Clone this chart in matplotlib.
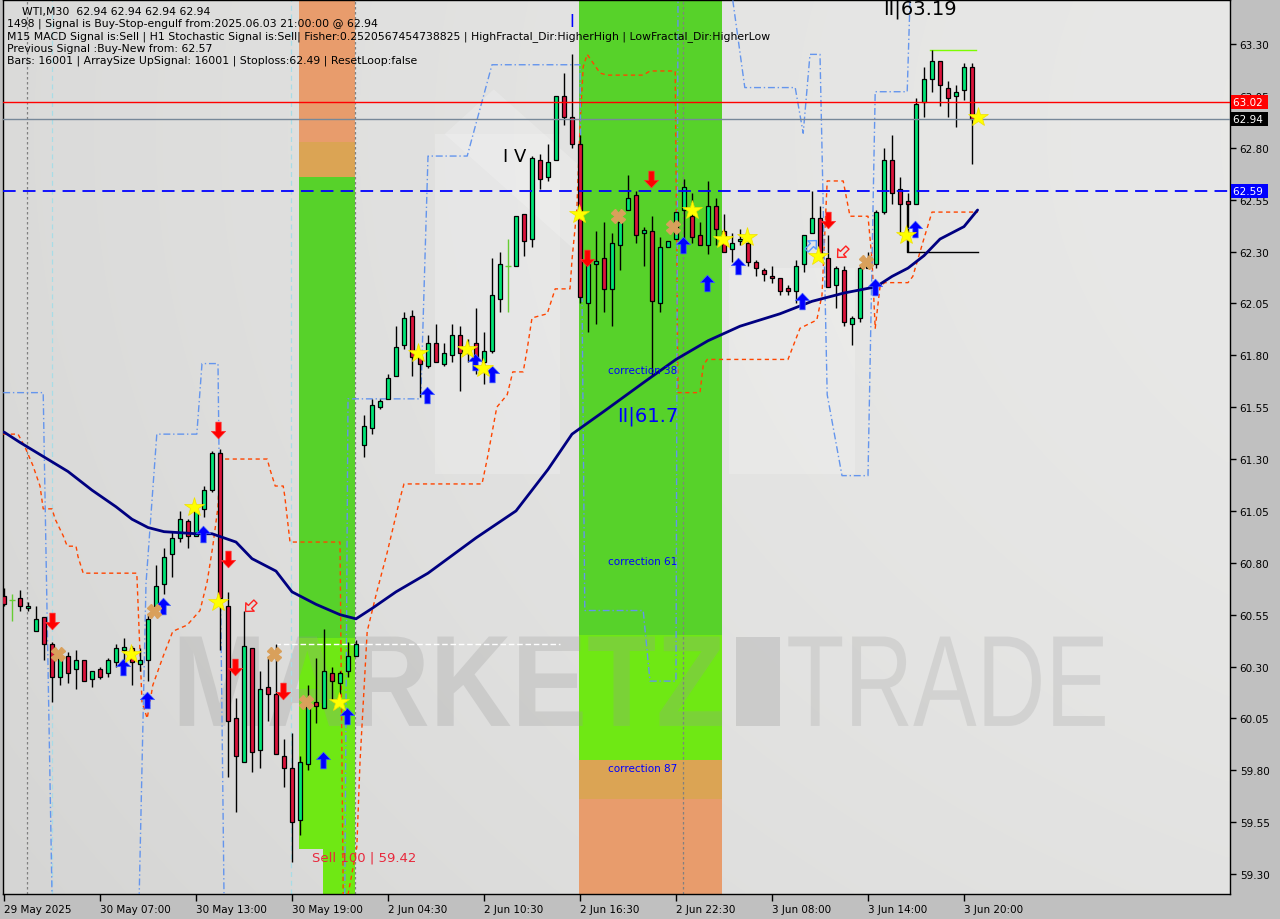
import matplotlib
matplotlib.use("Agg")
import matplotlib.pyplot as plt
import matplotlib.transforms as mtransforms
from matplotlib.path import Path
from matplotlib.markers import MarkerStyle
from matplotlib.textpath import TextPath
from matplotlib.patches import PathPatch, Rectangle, Polygon
from matplotlib.font_manager import FontProperties
import numpy as np

# ---- candles (WTI, M30), bar index 0 = 29 May 2025 ----
opens = [60.64, 60.62, 60.63, 60.58, 60.47, 60.54, 60.41, 60.25, 60.35, 60.29,
         60.33, 60.24, 60.29, 60.27, 60.32, 60.38, 60.39, 60.31, 60.33, 60.59,
         60.70, 60.84, 60.92, 61.00, 60.93, 61.06, 61.15, 61.33, 60.59, 60.05,
         59.84, 60.39, 59.90, 60.20, 60.17, 59.87, 59.81, 59.56, 59.83, 60.13,
         60.10, 60.27, 60.22, 60.28, 60.35, 61.37, 61.45, 61.55, 61.59, 61.70,
         61.85, 61.99, 61.79, 61.75, 61.86, 61.76, 61.80, 61.90, 61.81, 61.86,
         61.77, 61.82, 62.07, 62.23, 62.23, 62.48, 62.36, 62.74, 62.66, 62.74,
         63.05, 62.95, 62.82, 62.05, 62.24, 62.27, 62.12, 62.33, 62.50, 62.57,
         62.39, 62.40, 62.05, 62.32, 62.36, 62.50, 62.47, 62.38, 62.33, 62.52,
         62.40, 62.31, 62.35, 62.34, 62.25, 62.21, 62.18, 62.17, 62.12, 62.11,
         62.24, 62.39, 62.46, 62.27, 62.14, 62.21, 61.95, 61.98, 62.22, 62.24,
         62.49, 62.74, 62.60, 62.54, 62.53, 63.02, 63.13, 63.22, 63.09, 63.05,
         63.08, 63.19]
highs = [60.68, 60.65, 60.67, 60.61, 60.59, 60.54, 60.42, 60.35, 60.37, 60.38,
         60.33, 60.28, 60.30, 60.34, 60.41, 60.44, 60.40, 60.39, 60.55, 60.79,
         60.87, 60.95, 61.05, 61.01, 61.08, 61.17, 61.34, 61.35, 60.66, 60.15,
         60.57, 60.39, 60.28, 60.34, 60.41, 59.95, 59.98, 59.87, 60.21, 60.34,
         60.48, 60.30, 60.28, 60.42, 60.43, 61.51, 61.59, 61.59, 61.71, 61.94,
         62.01, 62.02, 61.82, 61.90, 61.95, 61.86, 61.95, 61.94, 61.88, 62.03,
         61.91, 62.27, 62.30, 62.36, 62.47, 62.48, 62.76, 62.77, 62.82, 63.05,
         63.16, 63.25, 62.86, 62.26, 62.40, 62.44, 62.39, 62.50, 62.67, 62.59,
         62.42, 62.47, 62.37, 62.35, 62.49, 62.65, 62.58, 62.44, 62.64, 62.56,
         62.48, 62.39, 62.41, 62.36, 62.26, 62.22, 62.23, 62.17, 62.14, 62.26,
         62.38, 62.59, 62.52, 62.38, 62.23, 62.23, 61.99, 62.23, 62.30, 62.50,
         62.80, 62.86, 62.66, 62.58, 63.04, 63.19, 63.27, 63.22, 63.12, 63.10,
         63.21, 63.21]
lows = [60.59, 60.52, 60.57, 60.57, 60.47, 60.33, 60.13, 60.21, 60.22, 60.19,
        60.23, 60.20, 60.24, 60.25, 60.30, 60.30, 60.21, 60.28, 60.23, 60.56,
        60.65, 60.73, 60.90, 60.87, 60.93, 61.02, 61.14, 60.38, 59.77, 59.60,
        59.84, 59.79, 59.81, 60.04, 59.88, 59.72, 59.36, 59.49, 59.80, 60.03,
        60.10, 60.14, 60.17, 60.25, 60.35, 61.31, 61.42, 61.54, 61.59, 61.70,
        61.83, 61.70, 61.60, 61.74, 61.77, 61.75, 61.77, 61.63, 61.77, 61.71,
        61.66, 61.81, 62.01, 62.01, 62.23, 62.28, 62.32, 62.60, 62.64, 62.74,
        62.91, 62.80, 62.05, 61.91, 61.95, 62.01, 61.94, 62.21, 62.50, 62.34,
        62.23, 61.70, 62.01, 62.32, 62.36, 62.33, 62.34, 62.33, 62.29, 62.33,
        62.30, 62.25, 62.33, 62.23, 62.18, 62.16, 62.15, 62.09, 62.09, 62.05,
        62.20, 62.39, 62.26, 62.13, 62.03, 61.94, 61.85, 61.96, 62.22, 62.22,
        62.48, 62.53, 62.38, 62.30, 62.53, 62.95, 63.07, 63.00, 62.95, 62.90,
        63.03, 62.72]
closes = [60.60, 60.62, 60.59, 60.59, 60.53, 60.41, 60.25, 60.34, 60.27, 60.33,
          60.23, 60.28, 60.25, 60.33, 60.39, 60.39, 60.32, 60.33, 60.53, 60.69,
          60.83, 60.92, 61.01, 60.93, 61.05, 61.15, 61.33, 60.63, 60.04, 59.87,
          60.40, 59.89, 60.19, 60.17, 59.88, 59.81, 59.55, 59.84, 60.12, 60.11,
          60.28, 60.23, 60.27, 60.35, 60.41, 61.46, 61.56, 61.58, 61.69, 61.84,
          61.98, 61.79, 61.76, 61.86, 61.77, 61.81, 61.90, 61.81, 61.84, 61.79,
          61.82, 62.09, 62.24, 62.23, 62.47, 62.35, 62.75, 62.65, 62.73, 63.05,
          62.95, 62.82, 62.08, 62.24, 62.25, 62.12, 62.34, 62.44, 62.56, 62.38,
          62.40, 62.06, 62.32, 62.35, 62.49, 62.61, 62.37, 62.33, 62.52, 62.41,
          62.30, 62.34, 62.36, 62.25, 62.22, 62.19, 62.17, 62.11, 62.11, 62.23,
          62.38, 62.46, 62.27, 62.13, 62.22, 61.96, 61.98, 62.22, 62.23, 62.49,
          62.74, 62.58, 62.53, 62.53, 63.01, 63.13, 63.22, 63.10, 63.04, 63.07,
          63.19, 62.94]

tick_bars = [0, 12, 24, 36, 48, 60, 72, 84, 96, 108, 120]
tick_labels = ["29 May 2025", "30 May 07:00", "30 May 13:00", "30 May 19:00",
               "2 Jun 04:30", "2 Jun 10:30", "2 Jun 16:30", "2 Jun 22:30",
               "3 Jun 08:00", "3 Jun 14:00", "3 Jun 20:00"]
price_ticks = [59.30, 59.55, 59.80, 60.05, 60.30, 60.55, 60.80, 61.05, 61.30,
               61.55, 61.80, 62.05, 62.30, 62.55, 62.80, 63.05, 63.30]

# moving average (navy)
ma_bar = [0, 2, 5, 8, 11, 14, 16, 18, 20, 24, 26, 29, 31, 34, 36, 39, 42, 44,
          46, 49, 53, 59, 64, 68, 71, 75, 80, 84, 88, 92, 97, 101, 105, 109,
          111, 113, 115, 117, 120, 121.7]
ma_val = [61.43, 61.38, 61.31, 61.24, 61.15, 61.07, 61.01, 60.97, 60.95, 60.94,
          60.94, 60.90, 60.82, 60.76, 60.66, 60.60, 60.55, 60.53, 60.58, 60.66,
          60.75, 60.92, 61.05, 61.25, 61.42, 61.53, 61.67, 61.78, 61.87, 61.94,
          62.00, 62.06, 62.10, 62.13, 62.18, 62.22, 62.28, 62.36, 62.42, 62.50]

# orange-red dashed channel
orange_bar = [-0.1, 1.75, 2.6, 3.6, 4.5, 4.9, 6.0, 6.4, 7.4, 7.9, 9.0, 9.25, 9.9,
              16.6, 17.25, 17.9, 18.6, 19.9, 21.1, 22.9, 24.5, 25.4, 26.1, 26.75,
              27.0, 32.9, 33.25, 33.9, 34.9, 35.1, 35.75, 42.0, 42.4, 43.0, 44.1,
              44.5, 45.4, 46.6, 47.9, 49.5, 50.0, 59.75, 60.4, 61.6, 62.9, 63.6,
              64.9, 65.4, 66.0, 67.9, 68.9, 70.75, 71.0, 71.6, 72.0, 72.4, 72.9,
              74.5, 75.4, 79.9, 80.75, 83.9, 84.25, 87.0, 87.4, 87.9, 98.0, 98.9,
              99.5, 101.6, 102.25, 102.9, 104.9, 105.75, 108.0, 108.5, 108.9,
              109.5, 110.1, 113.0, 113.6, 114.9, 116.0, 121.75]
orange_val = [61.42, 61.42, 61.36, 61.27, 61.17, 61.06, 61.06, 61.01, 60.93, 60.88,
              60.88, 60.83, 60.75, 60.75, 60.13, 60.05, 60.21, 60.35, 60.47, 60.50,
              60.57, 60.71, 60.88, 61.07, 61.30, 61.30, 61.25, 61.17, 61.17, 61.12,
              60.90, 60.90, 59.20, 59.20, 59.43, 59.84, 60.47, 60.66, 60.85, 61.11,
              61.18, 61.18, 61.30, 61.55, 61.61, 61.72, 61.72, 61.83, 61.98, 62.00,
              62.12, 62.12, 62.26, 62.50, 62.90, 63.19, 63.25, 63.16, 63.15, 63.15,
              63.17, 63.17, 61.62, 61.62, 61.75, 61.78, 61.78, 61.87, 61.93, 61.97,
              62.09, 62.64, 62.64, 62.47, 62.47, 62.26, 61.93, 62.13, 62.15, 62.15,
              62.18, 62.35, 62.49, 62.49]

# blue dash-dot channel pieces
blue1_bar = [-0.1, 4.9, 6.0, 16.9, 17.75, 19.1, 24.1, 24.75, 26.75, 27.5]
blue1_val = [61.62, 61.62, 59.20, 59.20, 60.70, 61.42, 61.42, 61.76, 61.76, 59.20]
blue2_bar = [42.6, 43.0, 52.1, 53.0, 57.9, 61.0, 72.0, 72.6, 79.9, 80.75, 84.0, 84.25]
blue2_val = [59.20, 61.59, 61.59, 62.76, 62.76, 63.20, 63.20, 60.57, 60.57, 60.23,
             60.23, 63.51]
blue3_bar = [91.1, 92.6, 98.9, 99.9, 100.75, 102.0, 102.9, 104.75, 108.0, 108.9,
             112.9, 113.25]
blue3_val = [63.51, 63.09, 63.09, 62.87, 63.25, 63.25, 61.61, 61.22, 61.22, 63.07,
             63.07, 63.51]

# signal markers (bar, price)
down_bar = [6.0, 26.75, 28.0, 28.9, 34.9, 72.9, 80.9, 103.0]
down_val = [60.52, 61.44, 60.82, 60.30, 60.18, 62.27, 62.65, 62.45]
up_bar = [14.9, 17.9, 19.9, 24.9, 39.9, 42.9, 52.9, 58.9, 61.0, 84.9, 87.9, 91.75,
          99.75, 108.9, 113.9]
up_val = [60.30, 60.14, 60.59, 60.94, 59.85, 60.06, 61.61, 61.77, 61.71, 62.33,
          62.15, 62.23, 62.06, 62.13, 62.41]
star_bar = [15.9, 23.75, 26.75, 41.9, 51.75, 57.9, 59.9, 71.9, 86.0, 89.9, 92.9,
            101.75, 112.75, 121.75]
star_val = [60.36, 61.07, 60.61, 60.13, 61.81, 61.83, 61.74, 62.48, 62.50, 62.36,
            62.37, 62.28, 62.38, 62.95]
cross_bar = [6.75, 18.75, 33.75, 37.75, 76.75, 83.6, 107.75]
cross_val = [60.36, 60.57, 60.36, 60.13, 62.47, 62.42, 62.25]

# shaded retracement zones
zone1_bars = [36.9, 43.9]
zone1_narrow_left = 39.9
zone1_levels = [63.51, 62.83, 62.66, 60.44, 59.42, 59.20]
zone2_bars = [71.9, 89.75]
zone2_levels = [63.51, 60.45, 59.85, 59.66, 59.20]

# level lines
ask_price, bid_price, signal_price = 63.02, 62.94, 62.59

UP_COL = "#00e676"
DN_COL = "#dc143c"

fig = plt.figure(figsize=(12.8, 9.2), dpi=100, facecolor="#c0c0c0")
ax = fig.add_axes([3 / 1280, 25 / 920, 1227 / 1280, 894 / 920])
ax.set_xlim(-0.125, 153.25)
ax.set_ylim(59.204, 63.512)

# background gradient
gx, gy = np.meshgrid(np.linspace(0, 1, 200), np.linspace(0, 1, 200))
shade = 0.848 + 0.05 * gx + 0.03 * gy - 0.03 * ((gx - 0.55) ** 2 + (gy - 0.35) ** 2)
bg = np.dstack([shade, shade, shade * 0.995])
ax.imshow(bg, extent=[0, 1, 0, 1], transform=ax.transAxes, origin="lower",
          aspect="auto", zorder=0, interpolation="bilinear")

# faint logo panels
for xs, ys in [([0.352, 0.454, 0.454, 0.352], [0.47, 0.47, 0.85, 0.85]),
               ([0.592, 0.694, 0.694, 0.592], [0.47, 0.47, 0.70, 0.70]),
               ([0.36, 0.40, 0.58, 0.54], [0.85, 0.90, 0.68, 0.63])]:
    ax.add_patch(Polygon(list(zip(xs, ys)), closed=True, transform=ax.transAxes,
                         fc="white", ec="none", alpha=0.2, zorder=0.5))

# zones
z = zone1_levels
x0, x1 = zone1_bars
ax.add_patch(Rectangle((x0, z[1]), x1 - x0, z[0] - z[1], fc="#e89c6c", ec="none", zorder=1))
ax.add_patch(Rectangle((x0, z[2]), x1 - x0, z[1] - z[2], fc="#dba454", ec="none", zorder=1))
ax.add_patch(Rectangle((x0, z[3]), x1 - x0, z[2] - z[3], fc="#57d22a", ec="none", zorder=1))
ax.add_patch(Rectangle((x0, z[4]), x1 - x0, z[3] - z[4], fc="#6fe814", ec="none", zorder=1))
ax.add_patch(Rectangle((zone1_narrow_left, z[5]), x1 - zone1_narrow_left, z[4] - z[5],
                       fc="#6fe814", ec="none", zorder=1))
z = zone2_levels
x0, x1 = zone2_bars
ax.add_patch(Rectangle((x0, z[1]), x1 - x0, z[0] - z[1], fc="#57d22a", ec="none", zorder=1))
ax.add_patch(Rectangle((x0, z[2]), x1 - x0, z[1] - z[2], fc="#6fe814", ec="none", zorder=1))
ax.add_patch(Rectangle((x0, z[3]), x1 - x0, z[2] - z[3], fc="#dba454", ec="none", zorder=1))
ax.add_patch(Rectangle((x0, z[4]), x1 - x0, z[3] - z[4], fc="#e89c6c", ec="none", zorder=1))


# watermark
def watermark(text, bx0, bx1, by0, by1, color, alpha, weight):
    tp = TextPath((0, 0), text, size=1,
                  prop=FontProperties(family="Liberation Sans", weight=weight))
    bb = tp.get_extents()
    tr = (mtransforms.Affine2D().translate(-bb.x0, -bb.y0)
          .scale((bx1 - bx0) / bb.width, (by1 - by0) / bb.height)
          .translate(bx0, by0) + ax.transAxes)
    ax.add_patch(PathPatch(tp, transform=tr, fc=color, ec="none", alpha=alpha, zorder=1.5))


watermark("MARKETZ", 0.144, 0.586, 0.188, 0.288, "#999999", 0.27, "bold")
ax.add_patch(Rectangle((0.597, 0.188), 0.036, 0.100, transform=ax.transAxes,
                       fc="#999999", ec="none", alpha=0.3, zorder=1.5))
watermark("TRADE", 0.640, 0.898, 0.188, 0.288, "#a0a0a0", 0.25, "normal")

# vertical separators
for b in [2.9, 43.9, 84.9]:
    ax.axvline(b, color="#808080", lw=0.9, ls=(0, (2, 2)), zorder=2)
for b in [6.0, 35.9]:
    ax.axvline(b, color="#a8dce6", lw=0.9, ls=(0, (4, 3)), zorder=2)

# channels
ax.plot(orange_bar, orange_val, color="#ff4500", lw=1.0, ls=(0, (3, 2.5)), zorder=3)
for bx, by in [(blue1_bar, blue1_val), (blue2_bar, blue2_val), (blue3_bar, blue3_val)]:
    ax.plot(bx, by, color="#6495ed", lw=1.0, ls=(0, (5, 2, 1, 2)), zorder=3)

# extra small level lines
ax.plot([33.9, 69.5], [60.41, 60.41], color="white", lw=1.0, ls=(0, (4, 2)), zorder=3)
ax.plot([112.9, 112.9, 121.75], [62.53, 62.30, 62.30], color="black", lw=1.0, zorder=3)
ax.plot([115.75, 121.5], [63.27, 63.27], color="#7cfc00", lw=1.0, zorder=3)

# candles
idx = np.arange(len(opens))
o = np.array(opens)
c = np.array(closes)
h = np.array(highs)
l = np.array(lows)
doji = o == c
bull = (c > o)
bear = (c < o)
ax.vlines(idx[~doji], l[~doji], h[~doji], color="black", lw=1.0, zorder=4)
ax.vlines(idx[doji], l[doji], h[doji], color="#66cc33", lw=1.0, zorder=4)
ax.hlines(c[doji], idx[doji] - 0.35, idx[doji] + 0.35, color="#66cc33", lw=1.0, zorder=4)
for mask, col in [(bull, UP_COL), (bear, DN_COL)]:
    bottoms = np.minimum(o, c)[mask]
    heights = np.maximum(np.abs(c - o)[mask], 0.012)
    ax.bar(idx[mask], heights, bottom=bottoms, width=0.62, color=col,
           edgecolor="black", linewidth=0.9, zorder=4.5)

# moving average
ax.plot(ma_bar, ma_val, color="#000080", lw=2.0, zorder=5, solid_capstyle="round")

# horizontal level lines
ax.axhline(ask_price, color="#ff0000", lw=1.0, zorder=5)
ax.axhline(bid_price, color="#778899", lw=1.0, zorder=5)
ax.axhline(signal_price, color="#0000ff", lw=1.3, ls=(0, (7, 4)), zorder=5)

# markers
arrow_up = Path([(0, 1), (-0.85, 0.1), (-0.32, 0.1), (-0.32, -1), (0.32, -1),
                 (0.32, 0.1), (0.85, 0.1), (0, 1)],
                [Path.MOVETO] + [Path.LINETO] * 6 + [Path.CLOSEPOLY])
arrow_dn = Path(np.array(arrow_up.vertices) * [1, -1], arrow_up.codes)
ax.plot(down_bar, down_val, ls="none", marker=arrow_dn, ms=12, mfc="#ff0000",
        mec="#ff3030", mew=0.5, zorder=6)
ax.plot(up_bar, up_val, ls="none", marker=arrow_up, ms=12, mfc="#0000ff",
        mec="#4060ff", mew=0.5, zorder=6)
ax.plot(star_bar, star_val, ls="none", marker="*", ms=15, mfc="#ffff00",
        mec="#f0e000", mew=0.5, zorder=6)
ax.plot(cross_bar, cross_val, ls="none", marker="X", ms=10, mfc="#d9a05b",
        mec="#d9a05b", zorder=6)
ax.plot([30.75], [60.59], ls="none",
        marker=MarkerStyle(arrow_up, transform=mtransforms.Affine2D().rotate_deg(135)),
        ms=10, mfc="none", mec="#ff2020", mew=1.0, zorder=6)
ax.plot([104.75], [62.30], ls="none",
        marker=MarkerStyle(arrow_up, transform=mtransforms.Affine2D().rotate_deg(135)),
        ms=10, mfc="none", mec="#ff2020", mew=1.0, zorder=6)
ax.plot([100.9], [62.33], ls="none",
        marker=MarkerStyle(arrow_up, transform=mtransforms.Affine2D().rotate_deg(-45)),
        ms=10, mfc="none", mec="#5a9cff", mew=1.0, zorder=6)

# labels on chart
FONT = "DejaVu Sans"
ax.text(75.5, 61.73, "correction 38", color="#0000ff", fontsize=7.5, va="center", family=FONT, zorder=7)
ax.text(75.5, 60.81, "correction 61", color="#0000ff", fontsize=7.5, va="center", family=FONT, zorder=7)
ax.text(75.5, 59.81, "correction 87", color="#0000ff", fontsize=7.5, va="center", family=FONT, zorder=7)
ax.text(76.6, 61.51, "II|61.7", color="#0000ff", fontsize=14, va="center", family=FONT, zorder=7)
ax.text(109.9, 63.47, "II|63.19", color="black", fontsize=14, va="center", family=FONT, zorder=7)
ax.text(62.4, 62.76, "I V", color="black", fontsize=13, va="center", family=FONT, zorder=7)
ax.text(71.0, 63.41, "I", color="#0000ff", fontsize=12, va="center", ha="center", family=FONT, zorder=7)
ax.text(38.5, 59.38, "Sell 100 | 59.42", color="#e8283c", fontsize=9.5, va="center", family=FONT, zorder=7)

# info block, top left
info = [
    (22, 12, "WTI,M30  62.94 62.94 62.94 62.94"),
    (7, 24, "1498 | Signal is Buy-Stop-engulf from:2025.06.03 21:00:00 @ 62.94"),
    (7, 37, "M15 MACD Signal is:Sell | H1 Stochastic Signal is:Sell| Fisher:0.2520567454738825 | HighFractal_Dir:HigherHigh | LowFractal_Dir:HigherLow"),
    (7, 49, "Previous Signal :Buy-New from: 62.57"),
    (7, 61, "Bars: 16001 | ArraySize UpSignal: 16001 | Stoploss:62.49 | ResetLoop:false"),
]
for px, py, s in info:
    fig.text(px / 1280, 1 - py / 920, s, fontsize=7.8, va="center", ha="left",
             family=FONT, color="black", zorder=10)

# axes styling
for sp in ax.spines.values():
    sp.set_color("black")
    sp.set_linewidth(1.0)
ax.yaxis.tick_right()
ax.set_yticks(price_ticks)
ax.set_yticklabels([f"{p:.2f}" for p in price_ticks], family=FONT)
ax.set_xticks(tick_bars)
ax.set_xticklabels(tick_labels, family=FONT, ha="left")
ax.tick_params(axis="y", direction="out", length=4, width=1, labelsize=7.5, pad=3)
ax.tick_params(axis="x", direction="out", length=5, width=1, labelsize=7.5, pad=2)

# price tags on the right scale
blend = mtransforms.blended_transform_factory(ax.transAxes, ax.transData)
for price, col in [(ask_price, "#ff0000"), (bid_price, "black"), (signal_price, "#0000ff")]:
    ax.text(1.0025, price, f"{price:.2f} ", transform=blend, color="white", fontsize=7.5,
            va="center", ha="left", family=FONT, clip_on=False, zorder=10,
            bbox=dict(boxstyle="square,pad=0.2", fc=col, ec="none"))

fig.savefig("out.png", dpi=100, facecolor=fig.get_facecolor())
